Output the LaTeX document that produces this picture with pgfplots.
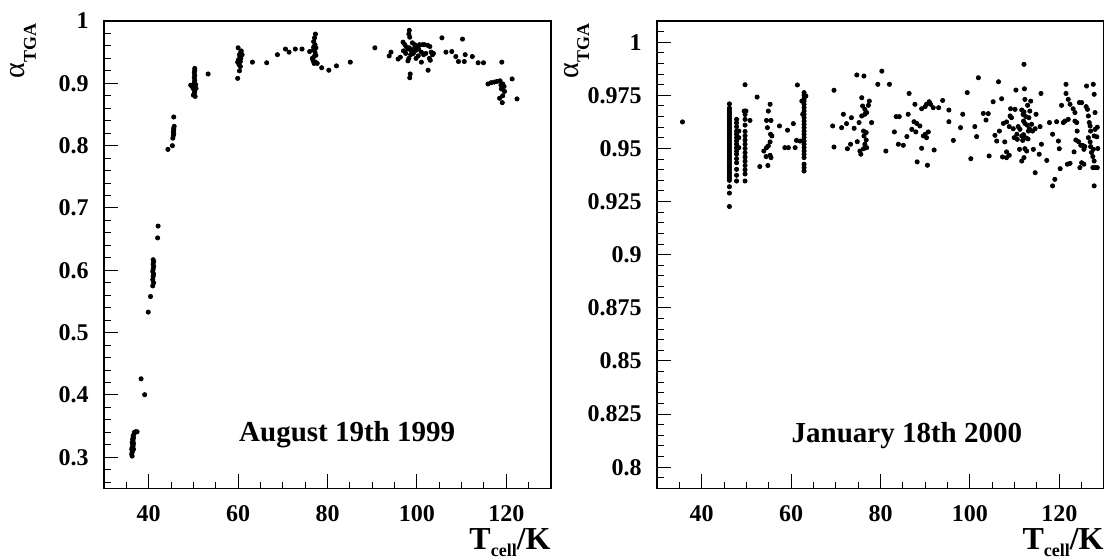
\documentclass[border=0pt]{standalone}
\usepackage{fontspec}
\setmainfont{Liberation Serif}
\usepackage{pgfplots}
\pgfplotsset{compat=1.18}

% ROOT-like frame: ticks inside, only on the left and bottom
\pgfplotsset{
  rootstyle/.style={
    scale only axis,
    width=223.5pt, height=233.75pt,
    anchor=south west,
    axis line style={line width=0.6pt},
    tick style={black, line width=0.5pt},
    tick align=inside,
    tick pos=left,
    major tick length=7pt,
    minor tick length=3.3pt,
    xmin=30, xmax=130,
    xtick={40,60,80,100,120},
    xticklabels={40,60,80,100,120},
    minor xtick={35,40,45,50,55,60,65,70,75,80,85,90,95,100,105,110,115,120,125},
    tick label style={font=\fontsize{12}{12}\selectfont\bfseries},
    xticklabel style={inner sep=0pt, anchor=north, yshift=-8.5pt},
    yticklabel style={inner sep=0pt, anchor=east, xshift=-7.5pt},
    every axis x label/.style={at={([yshift=-30.5pt]axis description cs:1,0)}, anchor=base east, inner sep=0pt},
    every axis y label/.style={at={([xshift=-39.5pt,yshift=-1pt]axis description cs:0,1)}, rotate=90, anchor=base east, inner sep=0pt},
    xlabel={\fontsize{16}{16}\selectfont\bfseries T\raisebox{-3.5pt}{\fontsize{9}{9}\selectfont cell}/K},
    ylabel={\fontsize{15}{15}\selectfont α\raisebox{-5.5pt}{\fontsize{9}{9}\selectfont\bfseries TGA}},
  },
  dots/.style={only marks, mark=*, mark size=1.05pt, color=black, mark options={draw=black, fill=black}},
}

\begin{document}
\begin{tikzpicture}
\path[use as bounding box] (0,0) rectangle (552pt,280pt);

% ---- August 19th 1999 ----
\begin{axis}[rootstyle, at={(52pt,35.75pt)},
  ymin=0.25, ymax=1.0,
  ytick={0.3,0.4,0.5,0.6,0.7,0.8,0.9,1.0},
  yticklabels={0.3,0.4,0.5,0.6,0.7,0.8,0.9,1},
  minor ytick={0.26,0.28,0.32,0.34,0.36,0.38,0.42,0.44,0.46,0.48,0.52,0.54,0.56,0.58,0.62,0.64,0.66,0.68,0.72,0.74,0.76,0.78,0.82,0.84,0.86,0.88,0.92,0.94,0.96,0.98},
]
\addplot[dots] coordinates {
(36.3,0.302)(36.2,0.305)(36.3,0.308)(36.4,0.311)(36.2,0.313)(36.3,0.316)(36.5,0.318)(36.4,0.321)(36.3,0.324)(36.5,0.326)
(36.4,0.329)(36.6,0.331)(36.5,0.334)(36.7,0.337)(36.8,0.340)(37.1,0.341)(37.4,0.341)(36.6,0.313)(36.6,0.322)
(38.3,0.426)(39.1,0.4005)(39.9,0.533)(40.4,0.558)
(40.9,0.575)(41.1,0.580)(40.9,0.585)(41.0,0.590)(41.1,0.594)(40.9,0.598)(41.0,0.602)(41.1,0.606)(41.0,0.610)(41.1,0.614)(41.0,0.617)
(42.0,0.652)(42.1,0.671)
(44.3,0.794)(45.3,0.800)(45.4,0.812)(45.5,0.816)(45.6,0.819)(45.5,0.822)(45.6,0.825)(45.6,0.828)(45.7,0.831)(45.6,0.846)
(49.4,0.897)(49.7,0.895)(49.9,0.893)(50.1,0.890)(50.3,0.887)(50.2,0.884)(50.0,0.881)(50.4,0.879)(50.3,0.894)(50.5,0.898)
(50.2,0.901)(50.3,0.905)(50.2,0.909)(50.3,0.913)(50.2,0.917)(50.3,0.921)(50.3,0.924)(50.6,0.892)
(53.3,0.915)
(59.9,0.908)(60.0,0.957)(60.3,0.920)(60.5,0.927)(59.9,0.934)(60.5,0.935)(60.6,0.940)(60.3,0.946)(60.6,0.950)(60.9,0.946)
(60.4,0.943)(60.1,0.938)(60.7,0.952)(60.2,0.930)
(63.2,0.934)(66.4,0.933)(68.8,0.946)(70.6,0.955)(71.4,0.950)(72.8,0.955)(74.3,0.955)(76.0,0.951)
(77.3,0.979)(77.1,0.973)(76.9,0.967)(77.2,0.962)(76.9,0.954)(77.2,0.950)(76.6,0.940)(77.3,0.934)(77.0,0.932)(77.7,0.932)
(77.4,0.945)(76.9,0.958)(77.4,0.957)(76.8,0.936)(77.0,0.943)
(78.7,0.925)(80.3,0.921)(82.0,0.928)(85.1,0.934)(90.6,0.957)(93.8,0.944)(94.2,0.950)(95.8,0.939)
(96.9,0.966)(97.3,0.962)(98.2,0.979)(98.3,0.985)(98.4,0.974)(97.7,0.958)(98.0,0.955)(98.3,0.957)(98.7,0.953)(99.0,0.950)
(98.6,0.946)(98.2,0.940)(98.0,0.936)(99.2,0.948)(99.5,0.957)(98.5,0.915)(98.4,0.909)(99.0,0.965)(99.5,0.962)(100.0,0.960)
(99.8,0.953)(100.4,0.955)(100.6,0.962)(101.0,0.934)(101.3,0.962)(101.7,0.962)(102.4,0.961)(102.9,0.959)(101.0,0.950)(101.5,0.946)
(102.0,0.948)(102.5,0.921)(103.2,0.950)(103.5,0.946)(102.8,0.940)(103.0,0.937)(103.7,0.948)(97.5,0.948)(97.0,0.952)(99.8,0.940)
(100.3,0.944)(96.3,0.942)
(105.6,0.973)(106.5,0.950)(107.8,0.951)(108.7,0.943)(109.3,0.935)(110.2,0.971)(110.6,0.935)(110.8,0.946)(112.4,0.943)(113.7,0.933)(114.9,0.933)
(115.9,0.899)(116.6,0.901)(117.3,0.902)(117.9,0.903)(118.6,0.904)(119.0,0.934)(119.2,0.899)(118.9,0.891)(119.6,0.887)(118.5,0.876)
(119.2,0.880)(119.1,0.869)(119.5,0.895)(118.8,0.897)
(121.3,0.907)(122.4,0.875)
};
\node[anchor=base, inner sep=0pt, font=\fontsize{14.5}{14.5}\selectfont\bfseries] at (axis cs:84.4,0.3253) {August 19th 1999};
\end{axis}

% ---- January 18th 2000 ----
\begin{axis}[rootstyle, at={(328.5pt,35.75pt)},
  ymin=0.79, ymax=1.01,
  ytick={0.8,0.825,0.85,0.875,0.9,0.925,0.95,0.975,1.0},
  yticklabels={0.8,0.825,0.85,0.875,0.9,0.925,0.95,0.975,1},
  minor ytick={0.795,0.805,0.81,0.815,0.82,0.83,0.835,0.84,0.845,0.855,0.86,0.865,0.87,0.88,0.885,0.89,0.895,0.905,0.91,0.915,0.92,0.93,0.935,0.94,0.945,0.955,0.96,0.965,0.97,0.98,0.985,0.99,0.995,1.005},
]
\addplot[dots] coordinates {
(35.7,0.9625)
(46.2,0.9227)(46.2,0.929)(46.2,0.932)(46.2,0.935)(46.2,0.936)(46.2,0.937)(46.2,0.938)(46.2,0.939)(46.2,0.940)(46.2,0.941)
(46.2,0.942)(46.2,0.943)(46.2,0.944)(46.2,0.945)(46.2,0.946)(46.2,0.947)(46.2,0.948)(46.2,0.949)(46.2,0.950)(46.2,0.951)
(46.2,0.952)(46.2,0.953)(46.2,0.954)(46.2,0.955)(46.2,0.956)(46.2,0.957)(46.2,0.958)(46.2,0.959)(46.2,0.960)(46.2,0.961)
(46.2,0.962)(46.2,0.963)(46.2,0.964)(46.2,0.965)(46.2,0.966)(46.2,0.967)(46.2,0.968)(46.2,0.969)(46.2,0.971)
(47.8,0.9637)(47.8,0.9621)(47.8,0.9603)(47.8,0.9582)(47.8,0.9567)(47.8,0.9551)(47.8,0.9535)(47.8,0.952)(47.8,0.9504)(47.8,0.9488)
(47.8,0.9473)(47.8,0.9452)(47.8,0.9433)(47.8,0.9402)(47.8,0.9374)(47.8,0.9347)(48.3,0.9551)(48.3,0.9504)(48.3,0.9582)
(49.7,0.980)(49.7,0.9676)(49.5,0.9676)(49.9,0.9676)(49.7,0.966)(49.7,0.9637)(49.7,0.961)(49.7,0.958)(49.7,0.956)(49.7,0.954)
(49.7,0.952)(49.7,0.950)(49.7,0.948)(49.7,0.946)(49.7,0.944)(49.7,0.942)(49.7,0.940)(49.7,0.938)(49.7,0.9347)
(50.8,0.9632)(52.4,0.9742)(53.0,0.9415)(53.9,0.9488)(54.5,0.9504)(54.4,0.9462)(54.8,0.942)
(55.3,0.9708)(54.9,0.9676)(54.5,0.9632)(55.5,0.9632)(54.7,0.9598)(55.4,0.9567)(55.7,0.9559)(55.3,0.9531)(54.9,0.9512)(55.3,0.9468)(55.5,0.9457)
(57.4,0.9606)(58.6,0.9504)(59.4,0.9504)(60.9,0.9504)(59.2,0.9586)(60.5,0.9617)(61.4,0.9799)(61.2,0.9538)
(62.9,0.9763)(62.9,0.975)(62.9,0.9734)(62.9,0.9723)(62.9,0.9708)(62.9,0.9692)(62.9,0.9676)(62.9,0.9661)(62.9,0.9645)(62.9,0.9629)
(62.9,0.9614)(62.9,0.9598)(62.9,0.9582)(62.9,0.9567)(62.9,0.9551)(62.9,0.9535)(62.9,0.952)(62.9,0.9504)(62.9,0.9488)(62.9,0.9473)
(62.9,0.9457)(62.9,0.9426)(62.9,0.941)(62.9,0.9394)(62.4,0.9723)(63.3,0.9747)(62.6,0.9661)(62.0,0.9535)
(69.6,0.9774)(69.3,0.9606)(69.6,0.9507)(71.3,0.9598)(71.7,0.9661)(72.4,0.9617)(72.6,0.9499)(73.5,0.9645)(73.3,0.952)(74.1,0.9595)
(74.7,0.9846)(74.8,0.9532)(75.2,0.9622)(75.4,0.9488)(75.6,0.9473)(75.8,0.9739)(76.0,0.970)(76.5,0.9684)(76.3,0.9841)
(75.8,0.9653)(76.5,0.9661)(76.9,0.9669)(76.3,0.9559)(76.8,0.954)(76.5,0.952)(76.2,0.9499)(76.9,0.9504)(77.5,0.9723)(77.3,0.9703)
(78.0,0.9622)(76.2,0.9582)(76.8,0.9575)
(79.4,0.9802)(80.3,0.9864)(81.2,0.9488)(82.0,0.9802)(83.1,0.9578)(83.5,0.965)(84.2,0.965)(84.0,0.952)(85.1,0.9515)(85.9,0.9556)
(86.2,0.9661)(86.4,0.9759)(87.0,0.959)(87.5,0.9626)(87.7,0.9708)(88.1,0.9618)(88.8,0.9606)(87.9,0.9578)(88.2,0.9437)
(89.2,0.9687)(90.0,0.9697)(90.3,0.9708)(89.2,0.9501)(89.6,0.9559)(90.0,0.9567)(90.3,0.9551)(90.7,0.9578)(90.5,0.9421)
(90.9,0.972)(91.2,0.9708)(91.8,0.9692)(92.0,0.9493)(93.0,0.9692)(93.9,0.9726)(95.3,0.9681)(95.3,0.9626)(96.3,0.9538)
(97.9,0.9598)(98.4,0.9661)(99.4,0.9763)(100.2,0.9452)(101.1,0.9603)(101.5,0.9556)(101.9,0.9833)
(103.0,0.9665)(103.6,0.9634)(104.1,0.9664)(104.3,0.9465)(105.2,0.972)(106.4,0.9814)(107.1,0.9734)(105.6,0.9562)(106.0,0.9535)(106.6,0.9582)
(107.5,0.9618)(108.2,0.9625)(108.8,0.9603)(107.8,0.9531)(108.2,0.9484)(107.3,0.946)(108.2,0.9457)(108.8,0.9468)
(109.0,0.9653)(109.3,0.9645)(109.1,0.9687)(109.7,0.9593)(109.9,0.9551)(110.1,0.9684)(110.3,0.9775)(110.5,0.9567)(110.6,0.9543)
(110.8,0.9603)(111.2,0.959)(111.6,0.9681)(111.6,0.9559)(111.8,0.9538)(112.0,0.9629)(112.1,0.9672)(112.2,0.9781)(112.3,0.9731)
(112.3,0.9618)(112.5,0.965)(112.3,0.9499)(112.7,0.9488)(112.9,0.9703)(113.1,0.9582)(113.3,0.9593)(113.4,0.9676)(113.6,0.9723)
(113.8,0.9614)(114.0,0.9582)(114.2,0.9496)(114.6,0.9593)(114.8,0.9661)(111.6,0.9441)(112.1,0.9457)(111.1,0.9496)
(112.0,0.9565)(112.5,0.955)(113.0,0.9545)(112.8,0.961)(111.9,0.966)(113.2,0.9645)(112.1,0.9896)
(114.6,0.9386)(115.7,0.9603)(115.9,0.9759)(115.5,0.9473)(116.0,0.952)(117.2,0.9444)(117.8,0.9622)(118.5,0.9567)(118.5,0.9324)
(119.0,0.9355)(119.4,0.9626)(119.8,0.9535)(120.0,0.9499)(120.2,0.9405)(120.9,0.9622)(120.5,0.9703)(121.5,0.9802)(121.5,0.9759)
(121.8,0.9426)(122.4,0.943)(121.3,0.9629)(122.0,0.9637)(122.0,0.9731)(122.4,0.9708)
(123.1,0.9687)(123.5,0.9669)(123.5,0.9629)(123.9,0.9622)(123.3,0.9484)(123.7,0.954)(124.3,0.9532)(124.0,0.9582)
(124.6,0.941)(125.0,0.9433)(125.5,0.9426)(124.5,0.9716)(125.0,0.9716)(124.8,0.9515)(125.2,0.9515)(125.5,0.9496)(125.7,0.9509)
(126.0,0.9697)(126.1,0.9794)(126.3,0.9684)(126.5,0.9653)(126.7,0.9622)(126.9,0.9606)(127.0,0.9582)(126.5,0.9551)(126.9,0.9531)
(127.0,0.9509)(127.2,0.9481)(127.5,0.9462)(127.6,0.9802)(127.8,0.9755)(128.0,0.9669)(128.0,0.959)(127.8,0.9559)(127.6,0.9496)
(127.8,0.9441)(127.5,0.941)(128.0,0.941)(127.8,0.9324)
(128.5,0.960)(128.6,0.950)(128.5,0.941)(128.4,0.9555)
};
\node[anchor=base, inner sep=0pt, font=\fontsize{14.5}{14.5}\selectfont\bfseries] at (axis cs:85.9,0.8117) {January 18th 2000};
\end{axis}
\end{tikzpicture}
\end{document}
